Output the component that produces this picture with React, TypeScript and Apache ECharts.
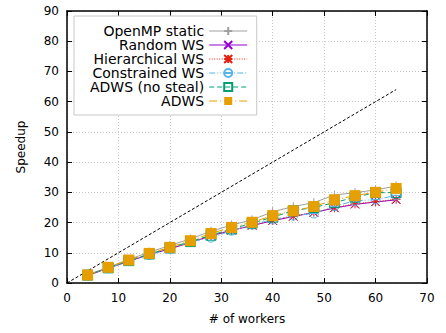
import React, { useEffect, useRef } from "react";
import * as echarts from "echarts";

const workers = [4, 8, 12, 16, 20, 24, 28, 32, 36, 40, 44, 48, 52, 56, 60, 64];
const openmpStatic = [2.7, 5.2, 7.8, 10.2, 12.4, 14.6, 17.1, 19.2, 20.9, 23.6, 25.3, 26.6, 29.1, 29.9, 30.8, 32.1];
const randomWS = [2.5, 4.9, 7.2, 9.4, 11.3, 13.4, 15.6, 17.4, 19.0, 20.6, 22.0, 23.3, 24.8, 26.0, 26.8, 27.5];
const hierarchicalWS = [2.5, 4.9, 7.2, 9.4, 11.4, 13.5, 15.7, 17.5, 19.1, 20.7, 22.1, 23.4, 24.9, 26.2, 26.9, 27.7];
const constrainedWS = [2.5, 4.9, 7.3, 9.3, 11.4, 13.6, 15.0, 17.3, 19.3, 21.0, 22.3, 23.0, 25.4, 27.2, 27.6, 29.0];
const adwsNoSteal = [2.6, 5.0, 7.4, 9.6, 11.6, 13.7, 15.8, 17.9, 19.8, 21.8, 23.9, 25.0, 26.6, 28.4, 29.9, 29.9];
const adws = [2.65, 5.2, 7.6, 9.8, 11.8, 14.0, 16.4, 18.4, 20.1, 22.3, 23.9, 25.3, 27.5, 28.9, 30.0, 31.3];
const idealX = [0, 64];
const idealY = [0, 64];
const legendNames = ["OpenMP static", "Random WS", "Hierarchical WS", "Constrained WS", "ADWS (no steal)", "ADWS"];

const FONT = "DejaVu Sans";

const pair = (ys: number[]) => workers.map((x, i) => [x, ys[i]]);

export default function App() {
  const ref = useRef<HTMLDivElement>(null);
  useEffect(() => {
    document.body.style.margin = "0";
    const chart = echarts.init(ref.current!, null, { renderer: "svg" });
    const grid = { left: 67, right: 19, top: 11, bottom: 50 };
    const mk = (
      name: string,
      ys: number[],
      color: string,
      lineType: any,
      symbol: string,
      symbolSize: number,
      filled: boolean,
      z: number
    ) => ({
      name,
      type: "line",
      data: pair(ys),
      symbol,
      symbolSize,
      showSymbol: true,
      z,
      lineStyle: { color, width: 1, type: lineType },
      itemStyle: filled
        ? { color, borderColor: color, borderWidth: 0 }
        : { color: "none", borderColor: color, borderWidth: 1 },
      emphasis: { disabled: true },
    });
    const axisCommon = {
      type: "value",
      axisLine: { show: true, onZero: false, lineStyle: { color: "#000", width: 1.5 } },
      axisTick: { show: true, inside: true, length: 5, lineStyle: { color: "#000", width: 1 } },
    };
    chart.setOption({
      animation: false,
      textStyle: { fontFamily: FONT },
      grid,
      legend: {
        left: 74,
        top: 16,
        orient: "vertical",
        align: "right",
        padding: [8, 9, 7, 16],
        itemGap: 0,
        itemWidth: 38,
        itemHeight: 10,
        backgroundColor: "#fff",
        borderColor: "#c8c8c8",
        borderWidth: 1,
        lineStyle: { width: 1 },
        textStyle: { fontFamily: FONT, fontSize: 14, color: "#000", lineHeight: 13.2 },
        data: legendNames,
      },
      xAxis: [
        {
          ...axisCommon,
          min: 0,
          max: 70,
          interval: 10,
          position: "bottom",
          name: "# of workers",
          nameLocation: "middle",
          nameGap: 30,
          nameTextStyle: { fontFamily: FONT, fontSize: 12, color: "#000" },
          axisLabel: { color: "#000", fontSize: 12, fontFamily: FONT, margin: 9 },
          splitLine: { show: true, lineStyle: { color: "#c8c8c8", type: [1, 2], width: 1 } },
        },
        {
          ...axisCommon,
          min: 0,
          max: 70,
          interval: 10,
          position: "top",
          axisLabel: { show: false },
          splitLine: { show: false },
        },
      ],
      yAxis: [
        {
          ...axisCommon,
          min: 0,
          max: 90,
          interval: 10,
          position: "left",
          name: "Speedup",
          nameLocation: "middle",
          nameGap: 40,
          nameTextStyle: { fontFamily: FONT, fontSize: 12, color: "#000" },
          axisLabel: { color: "#000", fontSize: 12, fontFamily: FONT, margin: 8 },
          splitLine: { show: true, lineStyle: { color: "#c8c8c8", type: [1, 2], width: 1 } },
        },
        {
          ...axisCommon,
          min: 0,
          max: 90,
          interval: 10,
          position: "right",
          axisLabel: { show: false },
          splitLine: { show: false },
        },
      ],
      series: [
        {
          name: "ideal",
          type: "line",
          data: idealX.map((x, i) => [x, idealY[i]]),
          symbol: "none",
          lineStyle: { color: "#000", width: 1, type: [3, 2] },
          z: 1,
          emphasis: { disabled: true },
        },
        mk("OpenMP static", openmpStatic, "#a0a0a0", "solid", "path://M5,0L5,10M0,5L10,5", 9, false, 2),
        mk("Random WS", randomWS, "#9400d3", "solid", "path://M0,0L10,10M10,0L0,10", 8, false, 3),
        mk("Hierarchical WS", hierarchicalWS, "#e51e10", [1, 1.5], "path://M0,0L10,10M10,0L0,10M5,0L5,10M0,5L10,5", 9, false, 4),
        mk("Constrained WS", constrainedWS, "#56b4e9", [6, 2, 1, 2, 1, 2], "path://M0,5A5,5,0,1,1,10,5A5,5,0,1,1,0,5ZM0,5L10,5", 9, false, 5),
        mk("ADWS (no steal)", adwsNoSteal, "#009e73", [5, 3], "path://M0,0L10,0L10,10L0,10Z", 10, false, 6),
        mk("ADWS", adws, "#e69f00", [8, 3, 1, 3], "rect", 11, true, 7),
      ],
    });
    return () => chart.dispose();
  }, []);
  return <div ref={ref} style={{ width: 446, height: 333 }} />;
}
